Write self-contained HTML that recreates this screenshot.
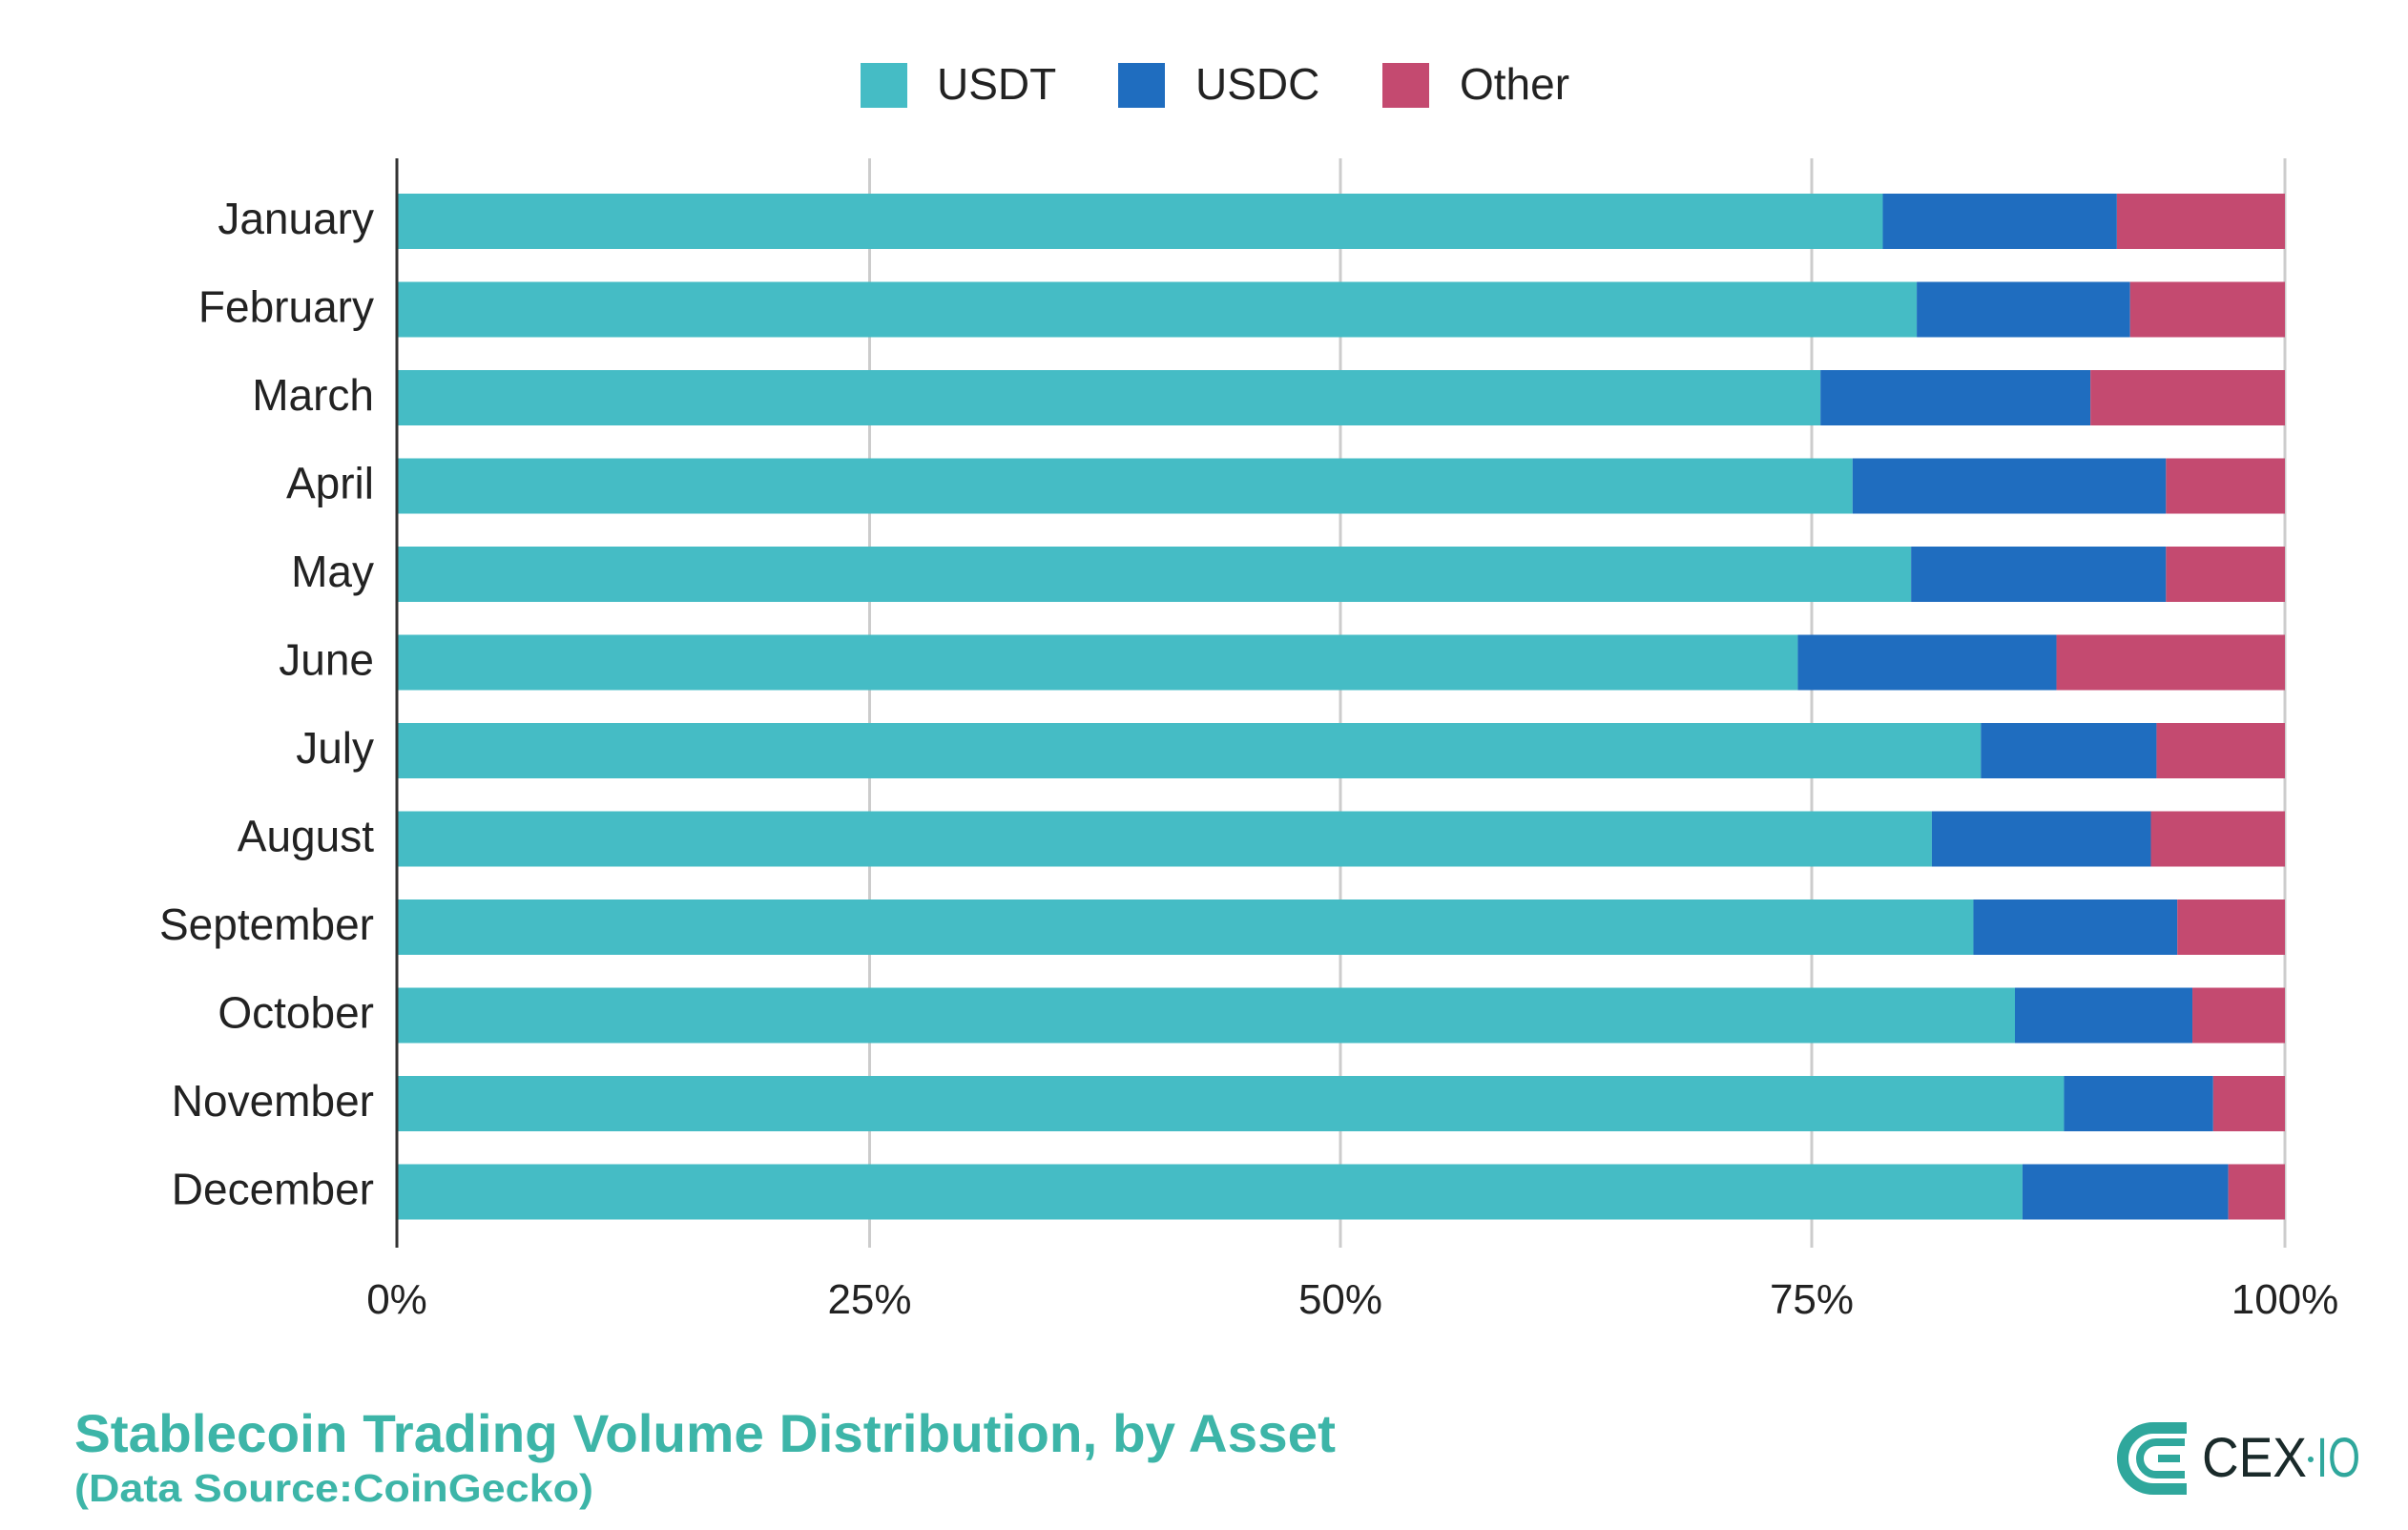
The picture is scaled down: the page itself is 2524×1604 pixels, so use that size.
<!DOCTYPE html>
<html><head><meta charset="utf-8"><style>
html,body{margin:0;padding:0;background:#fff;}
svg{display:block;font-family:"Liberation Sans",sans-serif;}
</style></head><body>
<svg width="2524" height="1604" viewBox="0 0 2524 1604" xmlns="http://www.w3.org/2000/svg">
<rect width="2524" height="1604" fill="#fff"/>
<!-- legend -->
<rect x="902" y="66" width="49" height="47" fill="#45bcc5"/>
<text x="982" y="104" font-size="46" fill="#222">USDT</text>
<rect x="1172" y="66" width="49" height="47" fill="#1f6dbf"/>
<text x="1253" y="104" font-size="46" fill="#222">USDC</text>
<rect x="1449" y="66" width="49" height="47" fill="#c44a70"/>
<text x="1530" y="104" font-size="46" fill="#222">Other</text>
<!-- grid -->
<g stroke="#ccc" stroke-width="3">
<line x1="911.5" y1="166" x2="911.5" y2="1308"/>
<line x1="1405" y1="166" x2="1405" y2="1308"/>
<line x1="1899" y1="166" x2="1899" y2="1308"/>
<line x1="2395" y1="166" x2="2395" y2="1308"/>
</g>
<g id="bars"></g>
<line x1="416" y1="166" x2="416" y2="1308" stroke="#333" stroke-width="3"/>
<g font-size="44" fill="#222" text-anchor="middle">
<text x="416" y="1377">0%</text>
<text x="911.5" y="1377">25%</text>
<text x="1405" y="1377">50%</text>
<text x="1899" y="1377">75%</text>
<text x="2395" y="1377">100%</text>
</g>
<g id="labels" font-size="46" fill="#222" text-anchor="end"></g>
<text x="78" y="1522" font-size="56" font-weight="bold" fill="#3db5a8" textLength="1322" lengthAdjust="spacingAndGlyphs">Stablecoin Trading Volume Distribution, by Asset</text>
<text x="78" y="1574" font-size="41" font-weight="bold" fill="#3db5a8" textLength="544" lengthAdjust="spacingAndGlyphs">(Data Source:CoinGecko)</text>
<!-- logo -->
<g fill="none" stroke="#2fa79c">
<path d="M2292 1497 H2257 A32 32 0 0 0 2257 1561 H2292" stroke-width="12"/>
<path d="M2290 1512 H2260 A17 17 0 0 0 2260 1546 H2290" stroke-width="8"/>
<path d="M2262 1529 H2285" stroke-width="8"/>
</g>
<text x="2308" y="1548" font-size="58" fill="#1a2a2a" font-weight="300" textLength="110" lengthAdjust="spacingAndGlyphs">CEX</text>
<circle cx="2422" cy="1530" r="3" fill="#2fa79c"/>
<text x="2428" y="1548" font-size="58" fill="#2fa79c" textLength="46" lengthAdjust="spacingAndGlyphs">IO</text>
<script>
var d=[["January",.787,.911],["February",.805,.918],["March",.754,.897],["April",.771,.937],["May",.802,.937],["June",.742,.879],["July",.839,.932],["August",.813,.929],["September",.835,.943],["October",.857,.951],["November",.883,.962],["December",.861,.970]];
var x0=416,W=1979,ns="http://www.w3.org/2000/svg",b=document.getElementById("bars"),l=document.getElementById("labels");
function r(x,y,w,h,c){var e=document.createElementNS(ns,"rect");e.setAttribute("x",x);e.setAttribute("y",y);e.setAttribute("width",w);e.setAttribute("height",h);e.setAttribute("fill",c);b.appendChild(e);}
d.forEach(function(v,i){var y=203+i*92.5;
r(x0,y,v[1]*W,58,"#45bcc5");r(x0+v[1]*W,y,(v[2]-v[1])*W,58,"#1f6dbf");r(x0+v[2]*W,y,(1-v[2])*W,58,"#c44a70");
var t=document.createElementNS(ns,"text");t.setAttribute("x",392);t.setAttribute("y",y+42);t.textContent=v[0];l.appendChild(t);});
</script>
</svg>
</body></html>
